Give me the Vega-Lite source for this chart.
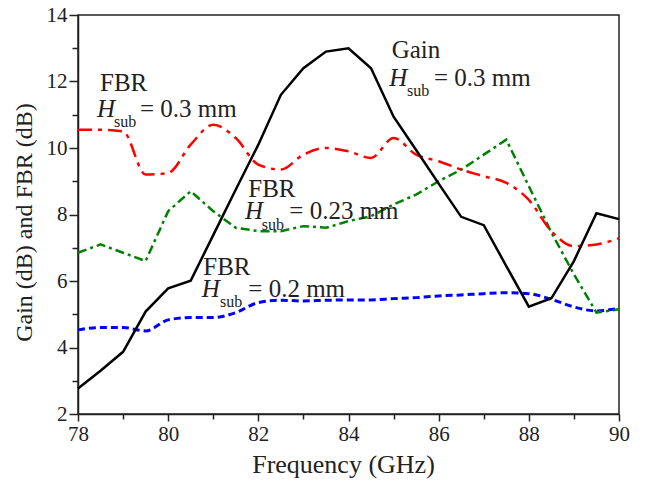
{
  "$schema": "https://vega.github.io/schema/vega-lite/v6.json",
  "width": 541,
  "height": 399,
  "autosize": {"type": "none"},
  "padding": {"left": 78, "top": 15, "right": 32, "bottom": 69},
  "background": "white",
  "config": {
    "view": {"stroke": "#222", "strokeWidth": 1.5},
    "font": "'Liberation Serif', 'Times New Roman', serif",
    "axis": {
      "domainColor": "#222", "domainWidth": 1.5, "tickColor": "#222", "tickWidth": 1.5,
      "labelFont": "'Liberation Serif', 'Times New Roman', serif", "titleFont": "'Liberation Serif', 'Times New Roman', serif",
      "labelColor": "#222", "titleColor": "#222", "labelFontSize": 21, "titleFontSize": 24,
      "titleFontWeight": "normal", "grid": false
    }
  },
  "datasets": {
    "curves": [
      {"f": 78, "v": 2.77, "s": "gain"}, {"f": 78.5, "v": 3.3, "s": "gain"}, {"f": 79, "v": 3.87, "s": "gain"}, {"f": 79.5, "v": 5.08, "s": "gain"},
      {"f": 80, "v": 5.78, "s": "gain"}, {"f": 80.5, "v": 6.01, "s": "gain"}, {"f": 81, "v": 7.38, "s": "gain"}, {"f": 81.5, "v": 8.75, "s": "gain"},
      {"f": 82, "v": 10.1, "s": "gain"}, {"f": 82.5, "v": 11.6, "s": "gain"}, {"f": 83, "v": 12.4, "s": "gain"}, {"f": 83.5, "v": 12.9, "s": "gain"},
      {"f": 84, "v": 13.0, "s": "gain"}, {"f": 84.5, "v": 12.4, "s": "gain"}, {"f": 85, "v": 10.94, "s": "gain"}, {"f": 85.5, "v": 9.94, "s": "gain"},
      {"f": 86, "v": 8.93, "s": "gain"}, {"f": 86.5, "v": 7.93, "s": "gain"}, {"f": 87, "v": 7.68, "s": "gain"}, {"f": 87.5, "v": 6.45, "s": "gain"},
      {"f": 88, "v": 5.23, "s": "gain"}, {"f": 88.5, "v": 5.48, "s": "gain"}, {"f": 89, "v": 6.6, "s": "gain"}, {"f": 89.5, "v": 8.04, "s": "gain"},
      {"f": 90, "v": 7.86, "s": "gain"},
      {"f": 78, "v": 10.55, "s": "r"}, {"f": 78.5, "v": 10.55, "s": "r"}, {"f": 79, "v": 10.5, "s": "r"}, {"f": 79.5, "v": 9.2, "s": "r"},
      {"f": 80, "v": 9.25, "s": "r"}, {"f": 80.5, "v": 10.1, "s": "r"}, {"f": 81, "v": 10.7, "s": "r"}, {"f": 81.5, "v": 10.3, "s": "r"},
      {"f": 82, "v": 9.5, "s": "r"}, {"f": 82.5, "v": 9.35, "s": "r"}, {"f": 83, "v": 9.8, "s": "r"}, {"f": 83.5, "v": 10.0, "s": "r"},
      {"f": 84, "v": 9.9, "s": "r"}, {"f": 84.5, "v": 9.7, "s": "r"}, {"f": 85, "v": 10.3, "s": "r"}, {"f": 85.5, "v": 9.8, "s": "r"},
      {"f": 86, "v": 9.6, "s": "r"}, {"f": 86.5, "v": 9.35, "s": "r"}, {"f": 87, "v": 9.15, "s": "r"}, {"f": 87.5, "v": 8.95, "s": "r"},
      {"f": 88, "v": 8.44, "s": "r"}, {"f": 88.5, "v": 7.5, "s": "r"}, {"f": 89, "v": 7.05, "s": "r"}, {"f": 89.5, "v": 7.1, "s": "r"},
      {"f": 90, "v": 7.28, "s": "r"},
      {"f": 78, "v": 6.85, "s": "g"}, {"f": 78.5, "v": 7.1, "s": "g"}, {"f": 79, "v": 6.85, "s": "g"}, {"f": 79.5, "v": 6.6, "s": "g"},
      {"f": 80, "v": 8.1, "s": "g"}, {"f": 80.5, "v": 8.7, "s": "g"}, {"f": 81, "v": 8.1, "s": "g"}, {"f": 81.5, "v": 7.6, "s": "g"},
      {"f": 82, "v": 7.5, "s": "g"}, {"f": 82.5, "v": 7.5, "s": "g"}, {"f": 83, "v": 7.65, "s": "g"}, {"f": 83.5, "v": 7.6, "s": "g"},
      {"f": 84, "v": 7.8, "s": "g"}, {"f": 84.5, "v": 7.95, "s": "g"}, {"f": 85, "v": 8.3, "s": "g"}, {"f": 85.5, "v": 8.6, "s": "g"},
      {"f": 86, "v": 9.0, "s": "g"}, {"f": 86.5, "v": 9.35, "s": "g"}, {"f": 87, "v": 9.8, "s": "g"}, {"f": 87.5, "v": 10.25, "s": "g"},
      {"f": 88, "v": 8.85, "s": "g"}, {"f": 88.5, "v": 7.46, "s": "g"}, {"f": 89, "v": 6.2, "s": "g"}, {"f": 89.5, "v": 5.05, "s": "g"},
      {"f": 90, "v": 5.15, "s": "g"},
      {"f": 78, "v": 4.53, "s": "b"}, {"f": 78.5, "v": 4.6, "s": "b"}, {"f": 79, "v": 4.6, "s": "b"}, {"f": 79.5, "v": 4.5, "s": "b"},
      {"f": 80, "v": 4.83, "s": "b"}, {"f": 80.5, "v": 4.9, "s": "b"}, {"f": 81, "v": 4.9, "s": "b"}, {"f": 81.5, "v": 5.05, "s": "b"},
      {"f": 82, "v": 5.35, "s": "b"}, {"f": 82.5, "v": 5.42, "s": "b"}, {"f": 83, "v": 5.4, "s": "b"}, {"f": 83.5, "v": 5.42, "s": "b"},
      {"f": 84, "v": 5.43, "s": "b"}, {"f": 84.5, "v": 5.43, "s": "b"}, {"f": 85, "v": 5.47, "s": "b"}, {"f": 85.5, "v": 5.5, "s": "b"},
      {"f": 86, "v": 5.55, "s": "b"}, {"f": 86.5, "v": 5.58, "s": "b"}, {"f": 87, "v": 5.62, "s": "b"}, {"f": 87.5, "v": 5.65, "s": "b"},
      {"f": 88, "v": 5.62, "s": "b"}, {"f": 88.5, "v": 5.45, "s": "b"}, {"f": 89, "v": 5.22, "s": "b"}, {"f": 89.5, "v": 5.1, "s": "b"},
      {"f": 90, "v": 5.18, "s": "b"}
    ],
    "notes": [
      {"f": 78.488, "v": 11.714, "t": "FBR", "part": "main"},
      {"f": 78.421, "v": 10.932, "t": "H", "part": "ital"},
      {"f": 78.8, "v": 10.632, "t": "sub", "part": "sub"},
      {"f": 79.375, "v": 10.932, "t": "= 0.3 mm", "part": "main"},
      {"f": 84.958, "v": 12.698, "t": "Gain", "part": "main"},
      {"f": 84.905, "v": 11.865, "t": "H", "part": "ital"},
      {"f": 85.298, "v": 11.564, "t": "sub", "part": "sub"},
      {"f": 85.897, "v": 11.865, "t": "= 0.3 mm", "part": "main"},
      {"f": 81.777, "v": 8.517, "t": "FBR", "part": "main"},
      {"f": 81.704, "v": 7.856, "t": "H", "part": "ital"},
      {"f": 82.075, "v": 7.534, "t": "sub", "part": "sub"},
      {"f": 82.687, "v": 7.856, "t": "= 0.23 mm", "part": "main"},
      {"f": 80.779, "v": 6.18, "t": "FBR", "part": "main"},
      {"f": 80.744, "v": 5.528, "t": "H", "part": "ital"},
      {"f": 81.15, "v": 5.227, "t": "sub", "part": "sub"},
      {"f": 81.777, "v": 5.528, "t": "= 0.2 mm", "part": "main"}
    ]
  },
  "encoding": {
    "x": {
      "field": "f", "type": "quantitative",
      "scale": {"domain": [78, 90], "nice": false, "zero": false},
      "axis": {
        "title": "Frequency (GHz)", "titleFontSize": 26, "titlePadding": 7, "titleX": 265,
        "values": [78, 79, 80, 81, 82, 83, 84, 85, 86, 87, 88, 89, 90],
        "labelExpr": "datum.value % 2 === 0 ? datum.label : ''",
        "tickSize": {"condition": {"test": "datum.value % 2 === 0", "value": 7}, "value": 5},
        "labelPadding": 2, "labelFlush": false, "labelOverlap": false
      }
    },
    "y": {
      "field": "v", "type": "quantitative",
      "scale": {"domain": [2, 14], "nice": false, "zero": false},
      "axis": {
        "title": "Gain (dB) and FBR (dB)", "titlePadding": 10, "titleY": 207,
        "values": [2, 3, 4, 5, 6, 7, 8, 9, 10, 11, 12, 13, 14],
        "labelExpr": "datum.value % 2 === 0 ? datum.label : ''",
        "tickSize": {"condition": {"test": "datum.value % 2 === 0", "value": 9}, "value": 6},
        "labelPadding": 2, "labelFlush": false, "labelOverlap": false
      }
    }
  },
  "layer": [
    {
      "data": {"name": "curves"},
      "transform": [{"filter": "datum.s === 'b'"}],
      "mark": {"type": "line", "color": "#0000ff", "strokeWidth": 3, "strokeDash": [7, 4], "interpolate": "monotone"}
    },
    {
      "data": {"name": "curves"},
      "transform": [{"filter": "datum.s === 'g'"}],
      "mark": {"type": "line", "color": "#008000", "strokeWidth": 2.5, "strokeDash": [9, 4, 3, 4]}
    },
    {
      "data": {"name": "curves"},
      "transform": [{"filter": "datum.s === 'r'"}],
      "mark": {"type": "line", "color": "#ff0000", "strokeWidth": 2.5, "strokeDash": [14, 6, 4, 6], "interpolate": "monotone"}
    },
    {
      "data": {"name": "curves"},
      "transform": [{"filter": "datum.s === 'gain'"}],
      "mark": {"type": "line", "color": "#000000", "strokeWidth": 2.5}
    },
    {
      "data": {"name": "notes"},
      "transform": [{"filter": "datum.part === 'main'"}],
      "mark": {"type": "text", "align": "left", "baseline": "alphabetic", "font": "'Liberation Serif', 'Times New Roman', serif", "fontSize": 25, "color": "#222"},
      "encoding": {"text": {"field": "t"}}
    },
    {
      "data": {"name": "notes"},
      "transform": [{"filter": "datum.part === 'ital'"}],
      "mark": {"type": "text", "align": "left", "baseline": "alphabetic", "font": "'Liberation Serif', 'Times New Roman', serif", "fontSize": 25, "fontStyle": "italic", "color": "#222"},
      "encoding": {"text": {"field": "t"}}
    },
    {
      "data": {"name": "notes"},
      "transform": [{"filter": "datum.part === 'sub'"}],
      "mark": {"type": "text", "align": "left", "baseline": "alphabetic", "font": "'Liberation Serif', 'Times New Roman', serif", "fontSize": 16, "color": "#222"},
      "encoding": {"text": {"field": "t"}}
    }
  ]
}
